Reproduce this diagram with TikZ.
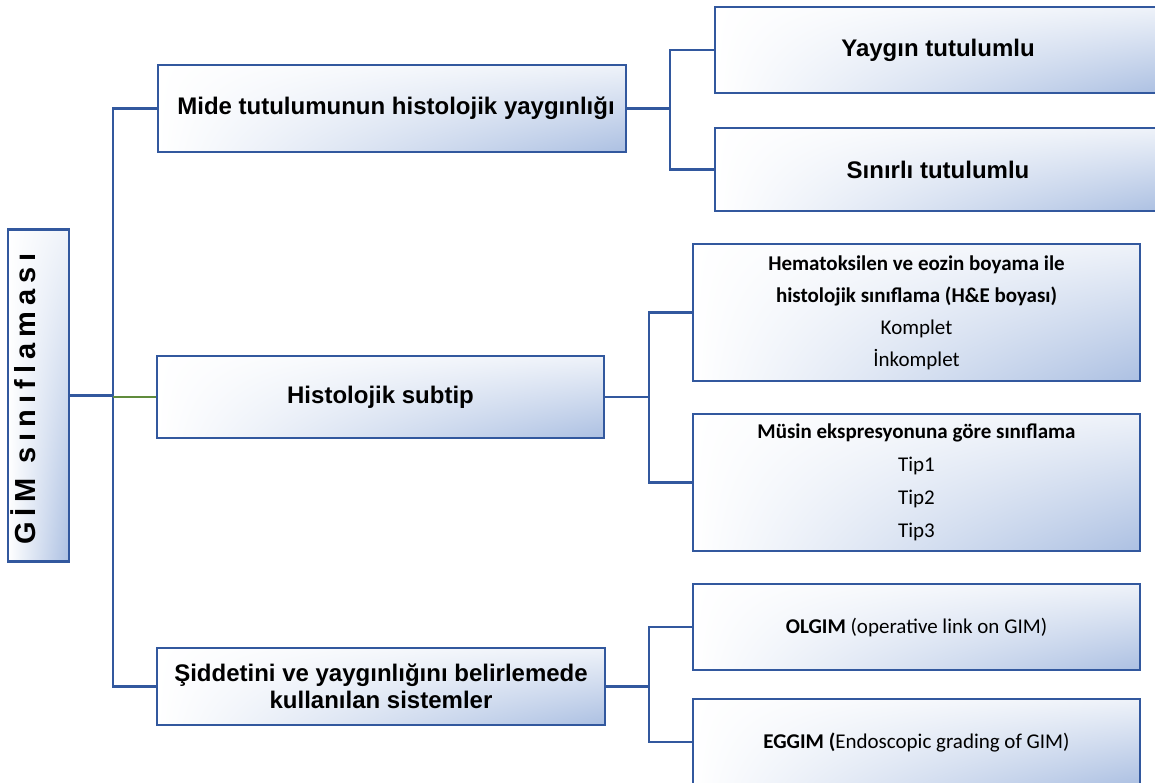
\documentclass[tikz,border=0pt]{standalone}
\usepackage{fontspec}
\usetikzlibrary{shadings}
\setmainfont{Liberation Sans}
\newfontfamily\calibri{Carlito}
\newfontfamily\gimfont[LetterSpace=21]{Liberation Sans}
\definecolor{bordercol}{RGB}{50,88,158}
\definecolor{gradblue}{RGB}{172,192,226}
\definecolor{greenline}{RGB}{96,140,60}
\begin{document}
\begin{tikzpicture}[x=1pt,y=-1pt,
  gbox/.style={draw=bordercol, line width=2.9pt, shade,
    upper left=white, lower left=white,
    upper right=white!80!gradblue, lower right=gradblue,
    inner sep=0pt, align=center, text=black},
  mainbox/.style={gbox, font=\fontsize{24}{27}\selectfont\bfseries},
  subbox/.style={gbox, minimum width=447pt, font=\calibri\fontsize{21}{32}\selectfont},
  conn/.style={draw=bordercol, line width=2.9pt},
  greenconn/.style={draw=greenline, line width=2.9pt},
]
\clip (0,0) rectangle (1155,782);

% left box
\node[gbox, rotate=90, minimum width=332pt, minimum height=61pt] (gim) at (38.5,395.5) {};
\node[rotate=90, inner sep=0pt, font=\gimfont\fontsize{29}{30}\selectfont\bfseries] (gimlabel) at (23,399) {GİM sınıflaması};

% main boxes
\node[mainbox, minimum width=468pt, minimum height=87pt] (b1) at (392,108.5) {\hspace*{8pt}Mide tutulumunun histolojik yaygınlığı};
\node[mainbox, minimum width=447pt, minimum height=82pt] (b2) at (380.5,397) {Histolojik subtip};
\node[mainbox, minimum width=448pt, minimum height=77pt] (b3) at (381,686.5) {Şiddetini ve yaygınlığını belirlemede\\kullanılan sistemler};

% right boxes
\node[mainbox, minimum width=446pt, minimum height=86pt] (r1) at (938,50) {Yaygın tutulumlu};
\node[mainbox, minimum width=446pt, minimum height=83pt] (r2) at (938,169.5) {Sınırlı tutulumlu};
\node[subbox, minimum height=137pt] (r3) at (916.5,312.5) {\textbf{Hematoksilen ve eozin boyama ile}\\\textbf{histolojik sınıflama (H\&E boyası)}\\Komplet\\İnkomplet};
\node[subbox, minimum height=137pt, font=\calibri\fontsize{21}{33}\selectfont] (r4) at (916.5,482.5) {\textbf{Müsin ekspresyonuna göre sınıflama}\\Tip1\\Tip2\\Tip3};
\node[subbox, minimum height=86pt] (r5) at (916.5,627) {\textbf{OLGIM} (operative link on GIM)};
\node[subbox, minimum height=86pt] (r6) at (916.5,742) {\textbf{EGGIM (}Endoscopic grading of GIM)};

% trunks
\coordinate (t0) at (113,0);
\coordinate (t1) at (670,0);
\coordinate (t2) at (649,0);

\draw[conn] (gim.south) -- (gim.south -| t0);
\draw[conn] (b1.west) -| (t0 |- b3.west) -- (b3.west);
\draw[greenconn] (b2.west -| t0) -- (b2.west);

\draw[conn] (b1.east) -- (b1.east -| t1);
\draw[conn] (r1.west) -| (t1 |- r2.west) -- (r2.west);
\draw[conn] (b2.east) -- (b2.east -| t2);
\draw[conn] (r3.west) -| (t2 |- r4.west) -- (r4.west);
\draw[conn] (b3.east) -- (b3.east -| t2);
\draw[conn] (r5.west) -| (t2 |- r6.west) -- (r6.west);
\end{tikzpicture}
\end{document}
